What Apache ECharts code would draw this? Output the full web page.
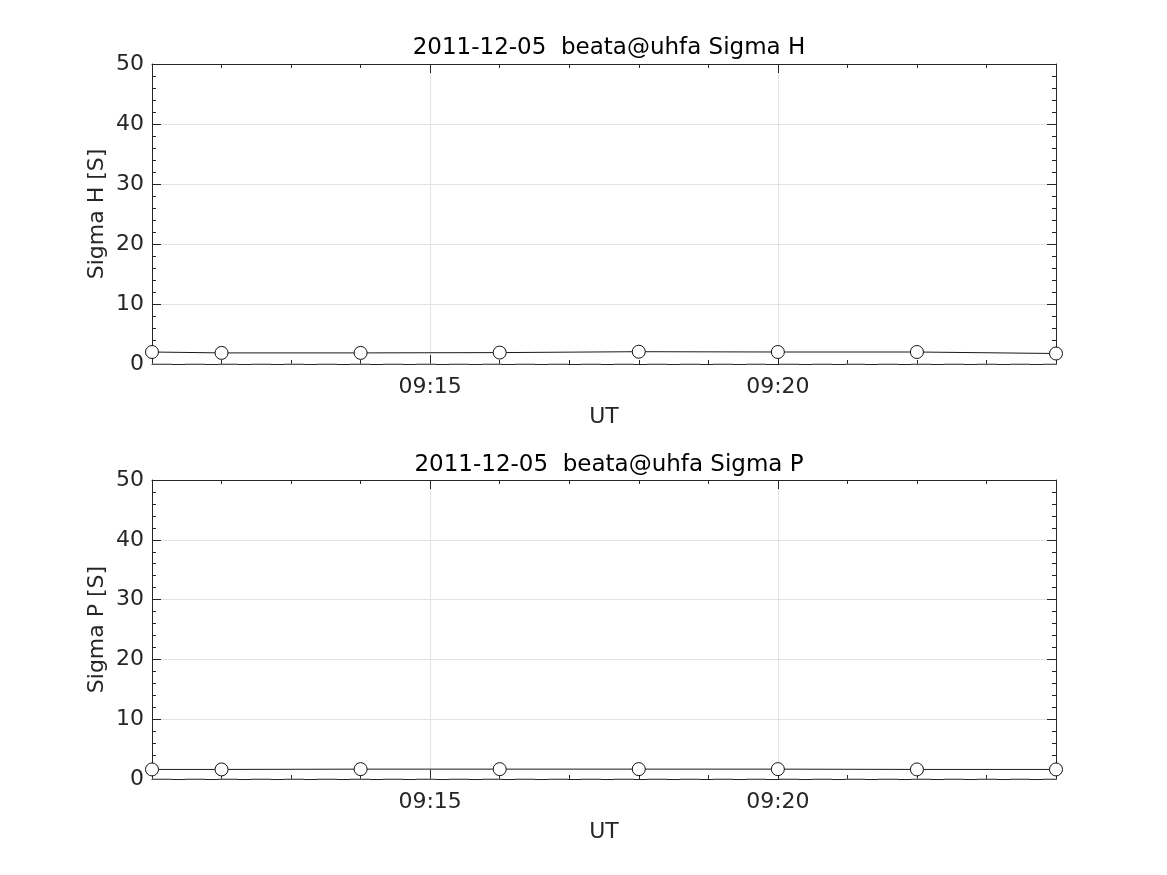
<!DOCTYPE html>
<html>
<head>
<meta charset="utf-8">
<script src="https://cdn.jsdelivr.net/npm/echarts@6/dist/echarts.min.js"></script>
<style>
html,body{margin:0;padding:0;background:#fff;}
#chart{width:1167px;height:875px;}
</style>
</head>
<body>
<div id="chart"></div>
<script>
// ---- data ----
const times = ['09:11','09:12','09:14','09:16','09:18','09:20','09:22','09:24'];
const sigmaH = [2.0, 1.85, 1.85, 1.9, 2.05, 2.0, 2.0, 1.75];
const sigmaP = [1.6, 1.6, 1.65, 1.65, 1.65, 1.65, 1.6, 1.6];
const zeroLine = [0, 0];
const xRange = ['09:11', '09:24'];
const xMajorTicks = ['09:15', '09:20'];
const yTicks = [0, 10, 20, 30, 40, 50];
const titles = ['2011-12-05  beata@uhfa Sigma H', '2011-12-05  beata@uhfa Sigma P'];
const yNames = ['Sigma H [S]', 'Sigma P [S]'];
const xName = 'UT';

// ---- helpers ----
const toMin = s => { const [h, m] = s.split(':').map(Number); return h * 60 + m; };
const fmt = v => { const h = Math.floor(v / 60), m = Math.round(v % 60); return (h < 10 ? '0' : '') + h + ':' + (m < 10 ? '0' : '') + m; };
const xMin = toMin(xRange[0]), xMax = toMin(xRange[1]);
const majors = xMajorTicks.map(toMin);

const FONT = 'DejaVu Sans';
const AX = '#262626';
const GRIDC = '#e3e3e3';
const FS = 22;

const grids = [
  { left: 152, top: 64, width: 904, height: 300 },
  { left: 152, top: 480, width: 904, height: 299 }
];

const xAxes = [], yAxes = [], series = [], titleArr = [];
grids.forEach((g, p) => {
  titleArr.push({
    text: titles[p], left: 604, top: p === 0 ? 32 : 449, textAlign: 'center',
    textStyle: { fontFamily: FONT, fontSize: 23, fontWeight: 'normal', color: '#000' }
  });
  const base = { gridIndex: p, type: 'value', min: xMin, max: xMax };
  xAxes.push(Object.assign({}, base, {
    position: 'bottom', interval: 1,
    axisLine: { show: true, onZero: false, lineStyle: { color: AX, width: 1 } },
    axisTick: { show: true, inside: true, length: 4, lineStyle: { color: AX } },
    axisLabel: { show: false }, splitLine: { show: false }
  }));
  xAxes.push(Object.assign({}, base, {
    position: 'top', interval: 1,
    axisLine: { show: true, onZero: false, lineStyle: { color: AX, width: 1 } },
    axisTick: { show: true, inside: true, length: 4, lineStyle: { color: AX } },
    axisLabel: { show: false }, splitLine: { show: false }
  }));
  xAxes.push(Object.assign({}, base, {
    position: 'bottom',
    axisLine: { show: false, onZero: false },
    axisTick: { show: true, inside: true, length: 9, customValues: majors, lineStyle: { color: AX } },
    axisLabel: { show: true, customValues: majors, formatter: v => fmt(v), fontFamily: FONT, fontSize: FS, color: AX, margin: 12 },
    splitLine: { show: true, lineStyle: { color: GRIDC, width: 1 } },
    name: xName, nameLocation: 'middle', nameGap: 42, nameMoveOverlap: false,
    nameTextStyle: { fontFamily: FONT, fontSize: FS, color: AX }
  }));
  xAxes.push(Object.assign({}, base, {
    position: 'top',
    axisLine: { show: false, onZero: false },
    axisTick: { show: true, inside: true, length: 9, customValues: majors, lineStyle: { color: AX } },
    axisLabel: { show: false }, splitLine: { show: false }
  }));

  const ybase = { gridIndex: p, type: 'value', min: yTicks[0], max: yTicks[yTicks.length - 1], interval: yTicks[1] - yTicks[0] };
  yAxes.push(Object.assign({}, ybase, {
    position: 'left',
    axisLine: { show: true, onZero: false, lineStyle: { color: AX, width: 1 } },
    axisTick: { show: true, inside: true, length: 9, lineStyle: { color: AX } },
    minorTick: { show: true, splitNumber: 5, length: 4, lineStyle: { color: AX } },
    axisLabel: { show: true, fontFamily: FONT, fontSize: FS, color: AX, margin: 8 },
    splitLine: { show: true, lineStyle: { color: GRIDC, width: 1 } },
    name: yNames[p], nameLocation: 'middle', nameGap: 44, nameRotate: 90, nameMoveOverlap: false,
    nameTextStyle: { fontFamily: FONT, fontSize: FS, color: AX }
  }));
  yAxes.push(Object.assign({}, ybase, {
    position: 'right',
    axisLine: { show: true, onZero: false, lineStyle: { color: AX, width: 1 } },
    axisTick: { show: true, inside: true, length: 9, lineStyle: { color: AX } },
    minorTick: { show: true, splitNumber: 5, length: 4, lineStyle: { color: AX } },
    axisLabel: { show: false }, splitLine: { show: false }
  }));

  const vals = p === 0 ? sigmaH : sigmaP;
  series.push({
    type: 'line', xAxisIndex: p * 4 + 2, yAxisIndex: p * 2,
    data: [xMin, xMax].map((x, i) => [x, zeroLine[i]]),
    showSymbol: false, symbol: 'none', clip: false, silent: true,
    lineStyle: { color: '#8a8a8a', width: 1, type: [20, 13] }, z: 3
  });
  series.push({
    type: 'line', xAxisIndex: p * 4 + 2, yAxisIndex: p * 2,
    data: times.map((t, i) => [toMin(t), vals[i]]),
    symbol: 'circle', symbolSize: 13, clip: false,
    lineStyle: { color: '#1a1a1a', width: 1 },
    itemStyle: { color: '#fff', borderColor: '#111', borderWidth: 1 },
    emphasis: { disabled: true },
    z: 4
  });
});

const chart = echarts.init(document.getElementById('chart'), null, { renderer: 'canvas' });
chart.setOption({
  animation: false,
  backgroundColor: '#fff',
  title: titleArr,
  grid: grids,
  xAxis: xAxes,
  yAxis: yAxes,
  series: series
});
</script>
</body>
</html>
